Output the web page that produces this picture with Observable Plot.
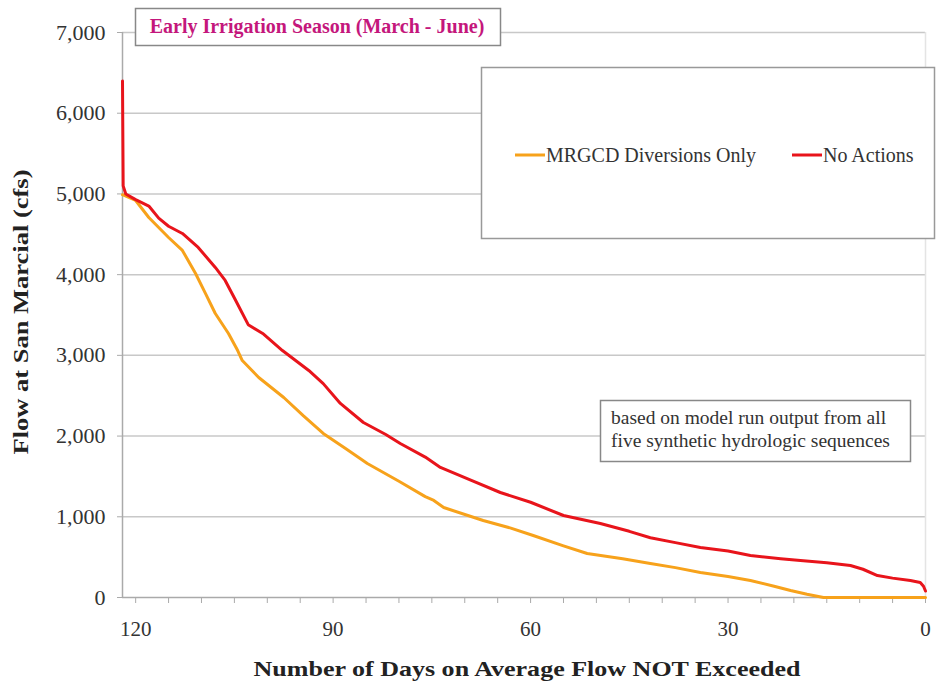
<!DOCTYPE html>
<html>
<head>
<meta charset="utf-8">
<script src="https://cdn.jsdelivr.net/npm/d3@7"></script>
<script src="https://cdn.jsdelivr.net/npm/@observablehq/plot@0.6"></script>
<style>
  html, body { margin: 0; padding: 0; background: #fff; }
  #chart { position: relative; width: 937px; height: 686px; }
  svg, svg text { font-family: "Liberation Serif", "Times New Roman", serif !important; }
</style>
</head>
<body>
<div id="chart"></div>
<script>
// ---- data (days on average flow NOT exceeded, flow cfs) ----
const noActionDays = [122, 121.9, 121.5, 120, 118, 116.5, 115, 112.9, 110.5, 107.9, 106.4, 104.8, 102.9, 100.7, 97.7, 93.7, 91.5, 88.9, 85.4, 82, 79.8, 76, 73.7, 69, 64.6, 60, 55, 49.4, 45, 41.8, 38, 34.2, 30, 26.6, 22, 19, 15, 11.4, 9.5, 7.3, 5, 2.3, 0.8, 0.3, 0];
const noActionFlow = [6400, 5100, 5000, 4930, 4850, 4700, 4600, 4510, 4337, 4089, 3928, 3680, 3380, 3271, 3060, 2813, 2650, 2404, 2168, 2020, 1908, 1740, 1611, 1450, 1301, 1180, 1016, 917, 820, 740, 680, 620, 575, 520, 480, 458, 430, 396, 350, 272, 240, 210, 186, 140, 80];

const mrgcdDays = [122, 120, 118, 115, 112.9, 110.9, 109.4, 107.9, 105.9, 104.5, 103.8, 101.3, 97.5, 94.5, 91.5, 88, 84.8, 80, 76, 74.7, 73.2, 67.2, 63, 59.6, 55, 51.4, 46, 41.8, 38, 34.2, 30, 26.6, 23, 20.5, 18, 15.5, 0];
const mrgcdFlow = [4990, 4919, 4708, 4460, 4300, 4014, 3767, 3519, 3271, 3060, 2936, 2726, 2478, 2250, 2032, 1840, 1660, 1440, 1250, 1202, 1115, 954, 860, 768, 640, 545, 480, 421, 370, 310, 260, 211, 140, 87, 40, 0, 0];

const seriesNames = ["MRGCD Diversions Only", "No Actions"];
const seriesColors = ["#F7A21B", "#E8141B"];
const xTickLabels = [120, 90, 60, 30, 0];
const yTicks = [0, 1000, 2000, 3000, 4000, 5000, 6000, 7000];
const titleText = "Early Irrigation Season (March - June)";
const noteLines = ["based on model run output from all", "five synthetic hydrologic sequences"];
const xTitle = "Number of Days on Average Flow NOT Exceeded";
const yTitle = "Flow at San Marcial (cfs)";

const mrgcd = mrgcdDays.map((d, i) => ({day: d, flow: mrgcdFlow[i]}));
const noAction = noActionDays.map((d, i) => ({day: d, flow: noActionFlow[i]}));

const plot = Plot.plot({
  width: 937,
  height: 686,
  marginLeft: 122,
  marginRight: 12,
  marginTop: 32,
  marginBottom: 89,
  style: {fontFamily: "Liberation Serif, serif", background: "#fff"},
  x: {domain: [122, 0]},
  y: {domain: [0, 7000]},
  marks: [
    Plot.gridY(yTicks.filter(d => d > 0), {stroke: "#c8c8c8", strokeOpacity: 1, strokeWidth: 1.5}),
    Plot.ruleX([0], {stroke: "#e4e4e4", strokeWidth: 1.5}),
    Plot.axisY({ticks: yTicks, tickFormat: d3.format(","), tickSize: 5, tickPadding: 12, label: null,
      fontSize: 22, color: "#333", stroke: "#aaa"}),
    Plot.ruleX([122], {stroke: "#aaa", strokeWidth: 1.5}),
    Plot.axisX({ticks: d3.range(0, 123, 5), tickSize: 6, tickFormat: () => "", label: null, stroke: "#aaa"}),
    Plot.axisX({ticks: xTickLabels, tickSize: 0, tickPadding: 24, label: null, fontSize: 21, color: "#333"}),
    Plot.ruleY([0], {stroke: "#aaa", strokeWidth: 1.5}),
    Plot.line(mrgcd, {x: "day", y: "flow", stroke: seriesColors[0], strokeWidth: 3}),
    Plot.line(noAction, {x: "day", y: "flow", stroke: seriesColors[1], strokeWidth: 3})
  ]
});

document.getElementById("chart").appendChild(plot);

// ---- annotations ----
const FONT = "'Liberation Serif', 'Times New Roman', serif";
const svg = d3.select(plot);
const g = svg.append("g").style("font-family", FONT).attr("text-anchor", "start");
const txt = () => g.append("text").style("font-family", FONT);

// title box
g.append("rect").attr("x", 135.5).attr("y", 8.5).attr("width", 365).attr("height", 37)
  .attr("fill", "#fff").attr("stroke", "#888").attr("stroke-width", 1.5);
txt().attr("x", 317).attr("y", 33).attr("text-anchor", "middle")
  .attr("font-size", 20).attr("font-weight", "bold").attr("fill", "#C4177C").text(titleText);

// legend box
g.append("rect").attr("x", 481.5).attr("y", 67.5).attr("width", 453).attr("height", 171)
  .attr("fill", "#fff").attr("stroke", "#999").attr("stroke-width", 1.5);
const legendX = [515, 792];
seriesNames.forEach((name, i) => {
  g.append("line").attr("x1", legendX[i]).attr("x2", legendX[i] + 30).attr("y1", 155).attr("y2", 155)
    .attr("stroke", seriesColors[i]).attr("stroke-width", 3);
  txt().attr("x", legendX[i] + 31).attr("y", 162).attr("text-anchor", "start")
    .attr("font-size", 20).attr("fill", "#333").text(name);
});

// note box
g.append("rect").attr("x", 600.5).attr("y", 400.5).attr("width", 310).attr("height", 61)
  .attr("fill", "#fff").attr("stroke", "#888").attr("stroke-width", 1.5);
noteLines.forEach((t, i) => {
  txt().attr("x", 611).attr("y", 424 + i * 23).attr("text-anchor", "start")
    .attr("font-size", 19.5).attr("fill", "#333").text(t);
});

// axis titles
txt().attr("x", 527).attr("y", 676).attr("text-anchor", "middle")
  .attr("font-size", 22).attr("font-weight", "bold").attr("fill", "#222")
  .attr("textLength", 547).attr("lengthAdjust", "spacingAndGlyphs").text(xTitle);
txt().attr("transform", "translate(28,312) rotate(-90)").attr("text-anchor", "middle")
  .attr("font-size", 21).attr("font-weight", "bold").attr("fill", "#222")
  .attr("textLength", 285).attr("lengthAdjust", "spacingAndGlyphs").text(yTitle);
</script>
</body>
</html>
